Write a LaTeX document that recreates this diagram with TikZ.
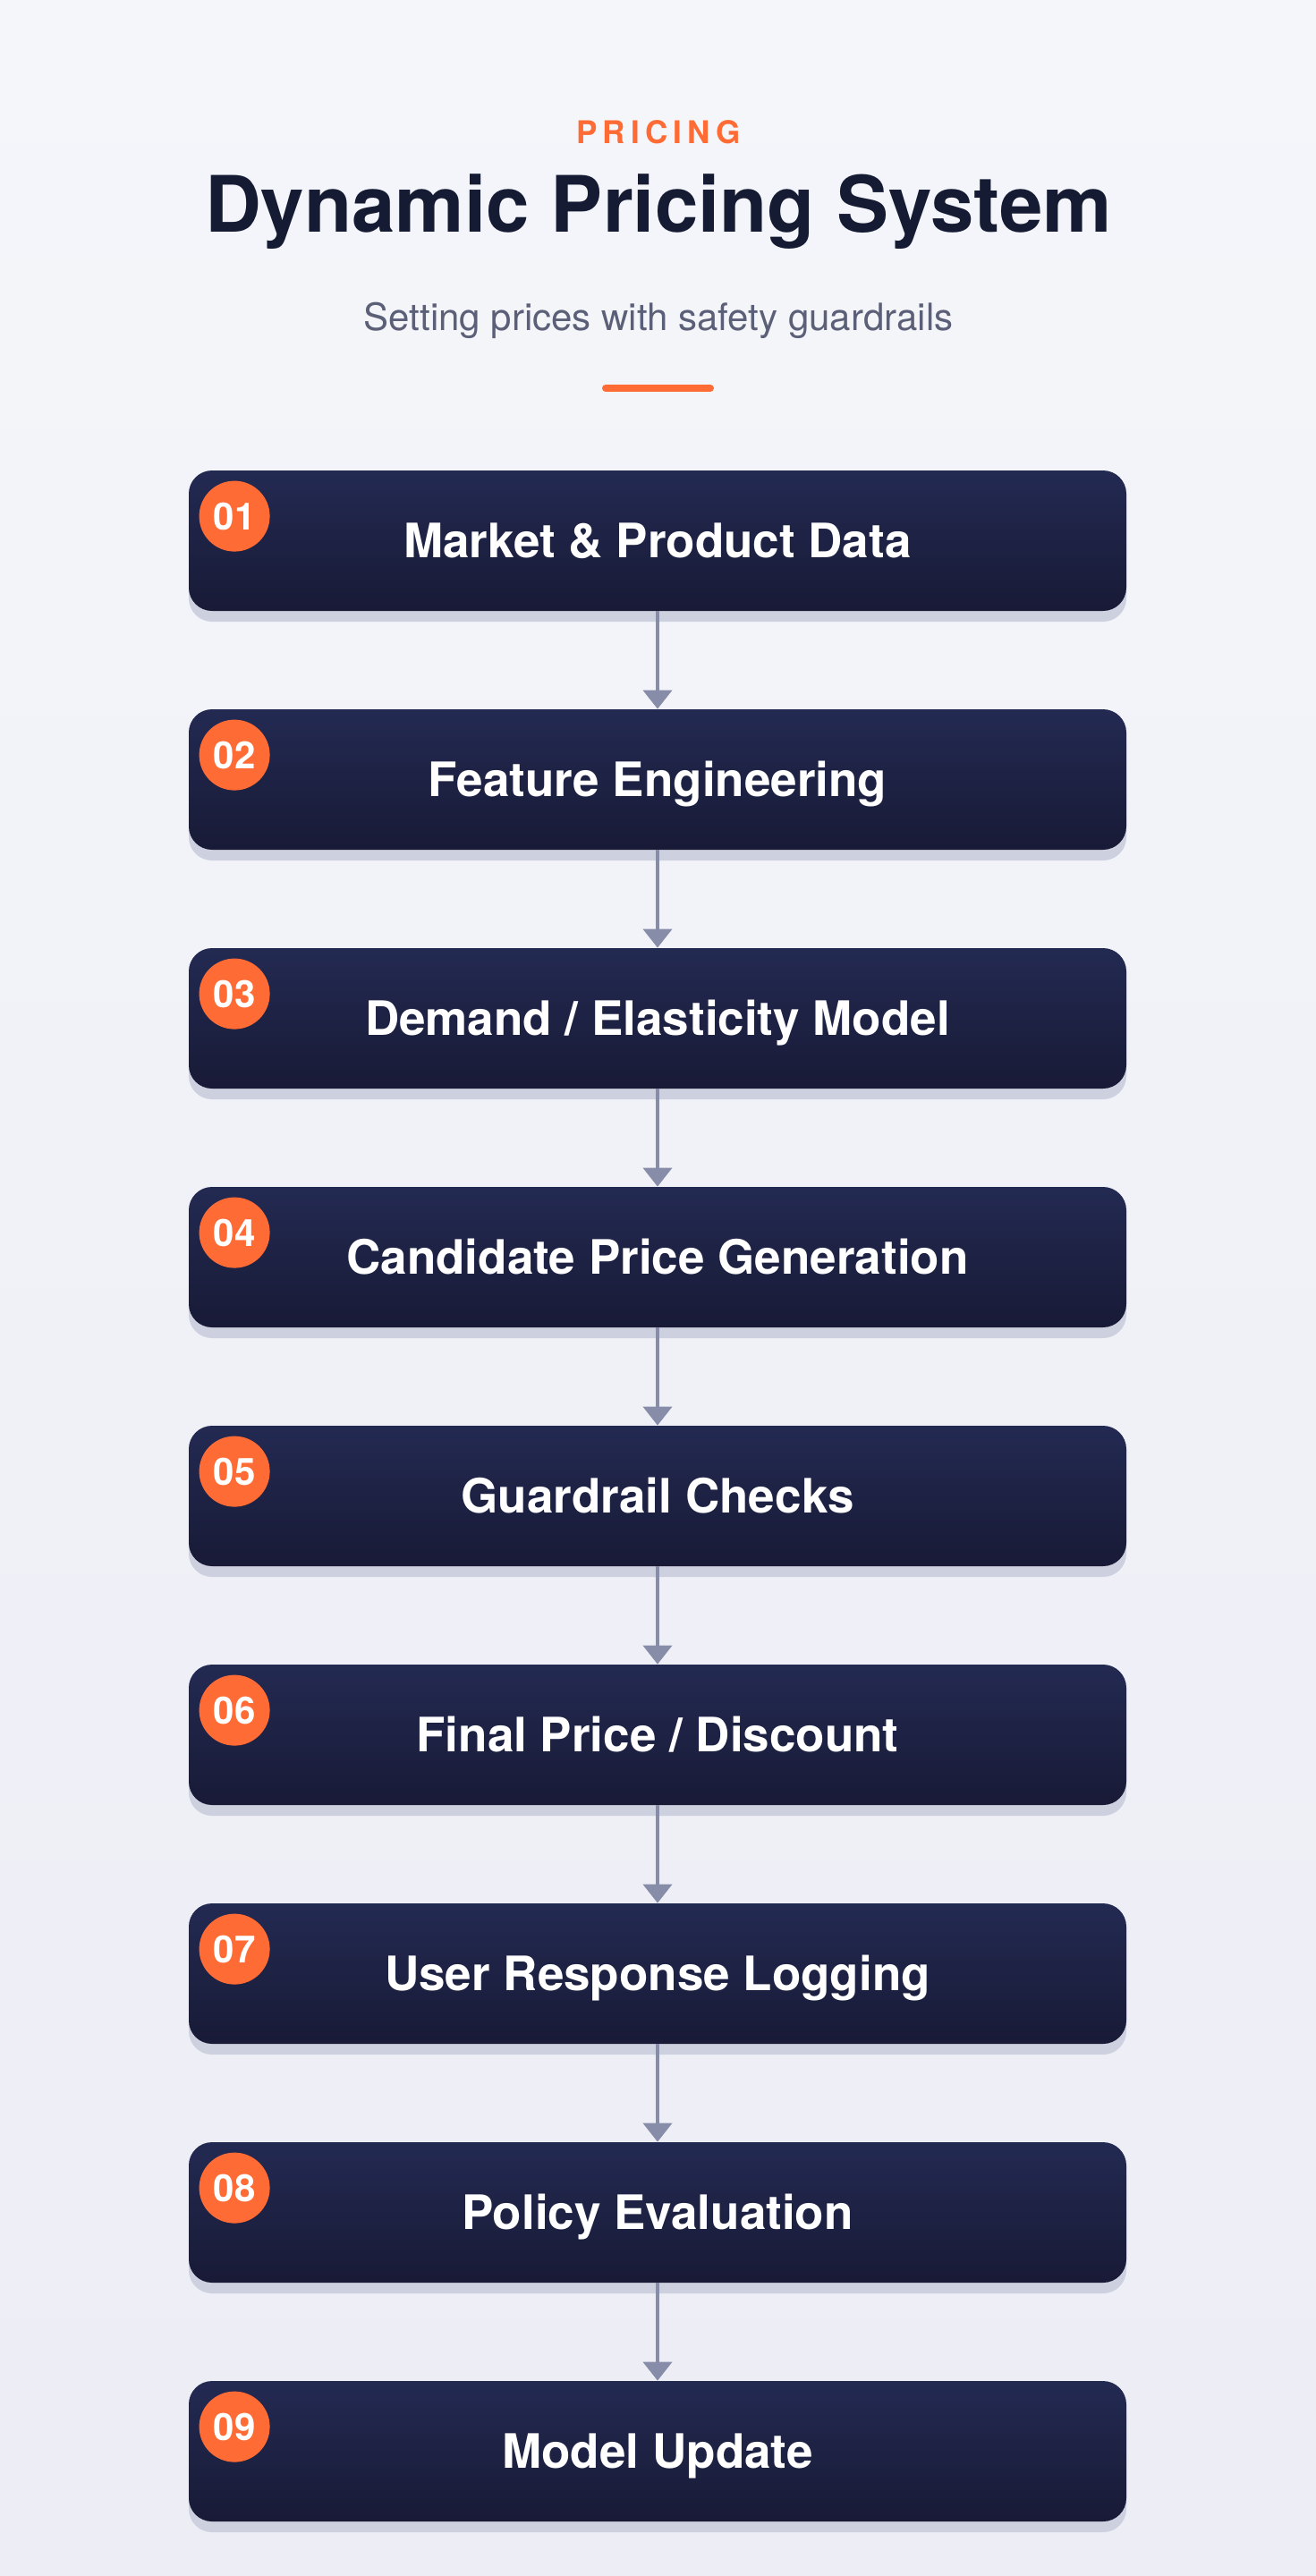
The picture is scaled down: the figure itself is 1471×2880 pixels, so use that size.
\documentclass[tikz,border=0pt]{standalone}
\usepackage{fontspec}
\setmainfont{TeX Gyre Heros}
\usetikzlibrary{positioning}
\usetikzlibrary{arrows.meta}
\usetikzlibrary{shadows}

\tikzset{
  stepbox/.style={rectangle, rounded corners=13pt, minimum width=524pt, minimum height=78.5pt,
    inner sep=0pt, top color=boxtop, bottom color=boxbot, text=white,
    font=\bfseries\fontsize{26.5}{30}\selectfont, text height=19pt, text depth=0pt,
    drop shadow={shadow xshift=0pt, shadow yshift=-6pt, fill=boxshadow, opacity=1}},
  stepnum/.style={circle, fill=numorange, minimum size=39.5pt, inner sep=0pt, text=white,
    font=\bfseries\fontsize{21}{24}\selectfont, text height=15pt, text depth=0pt},
  flow/.style={draw=arrowgray, line width=2.1pt, -{Triangle[width=16pt,length=10.5pt]}},
}

\begin{document}
\begin{tikzpicture}[x=0.5pt, y=-0.5pt]
            \definecolor{bgtop}{HTML}{F5F6FA}
            \definecolor{bgbot}{HTML}{ECEDF5}
            \definecolor{boxtop}{HTML}{232A52}
            \definecolor{boxbot}{HTML}{181A36}
            \definecolor{boxshadow}{HTML}{CDD0DE}
            \definecolor{numorange}{HTML}{FF6B35}
            \definecolor{arrowgray}{HTML}{878DA8}
            \definecolor{titleink}{HTML}{151B33}
            \definecolor{subgray}{HTML}{5B6078}
            \shade[top color=bgtop, bottom color=bgbot] (0,0) rectangle (1471,2880);
            \useasboundingbox (0,0) rectangle (1471,2880);

            % heading
            \node[anchor=base, text=numorange, font=\bfseries\fontsize{17.5}{20}\selectfont] (kicker) at (736,160) {\addfontfeature{LetterSpace=18}PRICING};
            \node[anchor=base, text=titleink, font=\bfseries\fontsize{43.5}{50}\selectfont] (title) at (736,259) {Dynamic Pricing System};
            \node[anchor=base, text=subgray, font=\fontsize{21}{24}\selectfont] (subtitle) at (736,369) {Setting prices with safety guardrails};
            \draw[numorange, line width=4pt, line cap=round] (677,434) -- (794,434);

            % steps
            \node[stepbox] (market) at (735,604.5) {Market \& Product Data};
            \node[stepbox] (feature) at (735,871.5) {Feature Engineering};
            \node[stepbox] (demand) at (735,1138.5) {Demand / Elasticity Model};
            \node[stepbox] (candidate) at (735,1405.5) {Candidate Price Generation};
            \node[stepbox] (guardrail) at (735,1672.5) {Guardrail Checks};
            \node[stepbox] (final) at (735,1939.5) {Final Price / Discount};
            \node[stepbox] (logging) at (735,2206.5) {User Response Logging};
            \node[stepbox] (policy) at (735,2473.5) {Policy Evaluation};
            \node[stepbox] (update) at (735,2740.5) {Model Update};

            % numbers
            \node[stepnum] (n1) at ([xshift=25.75pt, yshift=-25.75pt]market.north west) {01};
            \node[stepnum] (n2) at ([xshift=25.75pt, yshift=-25.75pt]feature.north west) {02};
            \node[stepnum] (n3) at ([xshift=25.75pt, yshift=-25.75pt]demand.north west) {03};
            \node[stepnum] (n4) at ([xshift=25.75pt, yshift=-25.75pt]candidate.north west) {04};
            \node[stepnum] (n5) at ([xshift=25.75pt, yshift=-25.75pt]guardrail.north west) {05};
            \node[stepnum] (n6) at ([xshift=25.75pt, yshift=-25.75pt]final.north west) {06};
            \node[stepnum] (n7) at ([xshift=25.75pt, yshift=-25.75pt]logging.north west) {07};
            \node[stepnum] (n8) at ([xshift=25.75pt, yshift=-25.75pt]policy.north west) {08};
            \node[stepnum] (n9) at ([xshift=25.75pt, yshift=-25.75pt]update.north west) {09};

            % arrows
            \draw[flow] (market.south) -- (feature.north);
            \draw[flow] (feature.south) -- (demand.north);
            \draw[flow] (demand.south) -- (candidate.north);
            \draw[flow] (candidate.south) -- (guardrail.north);
            \draw[flow] (guardrail.south) -- (final.north);
            \draw[flow] (final.south) -- (logging.north);
            \draw[flow] (logging.south) -- (policy.north);
            \draw[flow] (policy.south) -- (update.north);
        \end{tikzpicture}
\end{document}
